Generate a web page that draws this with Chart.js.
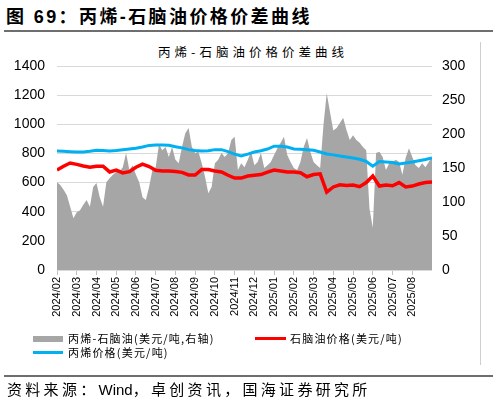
<!DOCTYPE html>
<html>
<head>
<meta charset="utf-8">
<script src="https://cdn.jsdelivr.net/npm/chart.js@4.4.0/dist/chart.umd.min.js"></script>
<style>
  body { margin: 0; width: 499px; height: 403px; background: #fff; position: relative; overflow: hidden;
         font-family: "Liberation Sans", "Noto Sans CJK SC", sans-serif; color: #000; }
  .abs { position: absolute; white-space: nowrap; }
  #mainTitle { left: 6px; top: 6px; font-size: 18px; font-weight: bold; line-height: 22px; letter-spacing: 2.4px; }
  .rule { position: absolute; left: 4px; width: 489px; height: 2px; background: #6e6e6e; }
  #chartTitle { left: 0; width: 506px; text-align: center; top: 44px; font-family: "Noto Sans CJK SC", sans-serif;
                font-size: 12.5px; line-height: 16px; letter-spacing: 4px; }
  #frame { left: 480px; top: 42px; width: 1px; height: 323px; background: #cfcfcf; }
  #chart { position: absolute; left: 0; top: 40px; }
  .leg { font-family: "Noto Sans CJK SC", sans-serif; font-size: 11px; line-height: 14px; letter-spacing: 1.2px; }
  .swatch { position: absolute; }
  #source { left: 7px; top: 379px; font-family: "Noto Sans CJK SC", sans-serif; font-size: 15px; line-height: 20px; letter-spacing: 3.3px; }
  #source span { font-family: "Liberation Sans", sans-serif; letter-spacing: 0; }
</style>
</head>
<body>
<div id="mainTitle" class="abs">图 69：丙烯-石脑油价格价差曲线</div>
<div class="rule" style="top:30px"></div>
<div id="chartTitle" class="abs">丙烯-石脑油价格价差曲线</div>
<div id="frame" class="abs"></div>
<canvas id="chart" width="490" height="300" style="width:490px;height:300px"></canvas>

<div class="swatch" style="left:33px;top:336px;width:30px;height:6px;background:#a6a6a6"></div>
<div class="abs leg" style="left:68px;top:331px">丙烯-石脑油(美元/吨,右轴)</div>
<div class="swatch" style="left:255px;top:337px;width:31px;height:3px;background:#ff0000"></div>
<div class="abs leg" style="left:290px;top:331px">石脑油价格(美元/吨)</div>
<div class="swatch" style="left:33px;top:351px;width:30px;height:3px;background:#00b0f0"></div>
<div class="abs leg" style="left:68px;top:345px">丙烯价格(美元/吨)</div>

<div class="rule" style="top:375px"></div>
<div id="source" class="abs">资料来源：<span>Wind</span>，卓创资讯，国海证券研究所</div>

<script>
// month tick labels (one tick per month)
var months = ['2024/02', '2024/03', '2024/04', '2024/05', '2024/06', '2024/07', '2024/08',
  '2024/09', '2024/10', '2024/11', '2024/12', '2025/01', '2025/02', '2025/03',
  '2025/04', '2025/05', '2025/06', '2025/07', '2025/08'];

// propylene - naphtha spread, USD/t, right axis (6 readings per month)
var spread = [129, 125, 118, 110, 93, 76, 85, 88, 96, 103,
  93, 122, 128, 107, 93, 129, 135, 140, 144, 144,
  151, 172, 147, 154, 140, 129, 107, 103, 122, 147,
  151, 185, 176, 181, 166, 181, 162, 157, 181, 201,
  209, 181, 172, 174, 157, 137, 113, 122, 157, 162,
  172, 166, 172, 191, 196, 147, 157, 151, 162, 174,
  154, 159, 172, 150, 154, 159, 169, 179, 187, 196,
  169, 159, 150, 147, 159, 181, 194, 174, 159, 154,
  150, 213, 260, 232, 205, 209, 216, 224, 206, 191,
  198, 191, 187, 181, 176, 90, 62, 172, 174, 166,
  147, 157, 159, 162, 159, 140, 165, 179, 166, 154,
  150, 157, 151, 159, 166];

// naphtha price, USD/t, left axis (3 readings per month)
var naphtha = [686, 712, 734, 725, 714, 705, 712, 712, 673, 686,
  666, 675, 705, 727, 710, 685, 679, 679, 676, 670,
  652, 652, 690, 690, 680, 673, 650, 631, 631, 645,
  650, 655, 672, 686, 680, 673, 673, 668, 640, 655,
  660, 535, 570, 585, 580, 583, 572, 600, 645, 576,
  583, 578, 600, 570, 576, 590, 600, 604];

// propylene price, USD/t, left axis (3 readings per month)
var propylene = [817, 815, 812, 810, 810, 815, 822, 820, 817, 820,
  825, 830, 836, 844, 855, 858, 858, 856, 846, 838,
  826, 820, 817, 818, 826, 826, 812, 795, 782, 795,
  810, 818, 830, 850, 850, 844, 830, 828, 825, 822,
  810, 796, 790, 782, 775, 769, 760, 745, 712, 745,
  742, 738, 728, 735, 741, 750, 758, 769];

var SPREAD_PER_MONTH = 6;
var LINE_PER_MONTH = 3;

// place readings along the month axis
function toPoints(values, perMonth) {
  return values.map(function (v, i) { return { x: i / perMonth, y: v }; });
}

var tickFont = { family: "'Liberation Sans', Arial, sans-serif", size: 14 };
var plainNumber = function (v) { return String(v); };

var ctx = document.getElementById('chart').getContext('2d');
var chart = new Chart(ctx, {
  type: 'line',
  data: {
    datasets: [{
      label: '丙烯价格(美元/吨)',
      data: toPoints(propylene, LINE_PER_MONTH),
      yAxisID: 'y',
      borderColor: '#00b0f0',
      borderWidth: 3,
      pointRadius: 0,
      fill: false,
      order: 1
    }, {
      label: '石脑油价格(美元/吨)',
      data: toPoints(naphtha, LINE_PER_MONTH),
      yAxisID: 'y',
      borderColor: '#ff0000',
      borderWidth: 3.5,
      pointRadius: 0,
      fill: false,
      order: 2
    }, {
      label: '丙烯-石脑油(美元/吨,右轴)',
      data: toPoints(spread, SPREAD_PER_MONTH),
      yAxisID: 'y1',
      borderWidth: 0,
      borderColor: 'rgba(0,0,0,0)',
      backgroundColor: '#a6a6a6',
      pointRadius: 0,
      fill: 'origin',
      order: 3
    }]
  },
  options: {
    responsive: false,
    animation: false,
    layout: { padding: { top: 26, left: 0, right: 0, bottom: 0 } },
    plugins: {
      legend: { display: false },
      tooltip: { enabled: false }
    },
    scales: {
      x: {
        type: 'linear',
        min: 0,
        max: months.length,
        border: { display: false },
        grid: { drawOnChartArea: false, drawTicks: true, tickLength: 5, color: '#bfbfbf' },
        ticks: {
          stepSize: 1,
          autoSkip: false,
          minRotation: 90,
          maxRotation: 90,
          padding: 2,
          color: '#000',
          font: { family: "'Liberation Sans', Arial, sans-serif", size: 11 },
          callback: function (v) {
            var m = months[Math.round(v)];
            return m === undefined ? null : m;
          }
        },
        afterFit: function (scale) { scale.height = 70; }
      },
      y: {
        position: 'left',
        min: 0,
        max: 1400,
        border: { display: false },
        grid: { color: '#d9d9d9', drawTicks: false },
        ticks: { stepSize: 200, padding: 12, color: '#000', font: tickFont, callback: plainNumber },
        afterFit: function (scale) { scale.width = 57; }
      },
      y1: {
        position: 'right',
        min: 0,
        max: 300,
        border: { display: false },
        grid: { display: false, drawTicks: false },
        ticks: { stepSize: 50, padding: 10, color: '#000', font: tickFont, callback: plainNumber },
        afterFit: function (scale) { scale.width = 58; }
      }
    }
  }
});
</script>
</body>
</html>
